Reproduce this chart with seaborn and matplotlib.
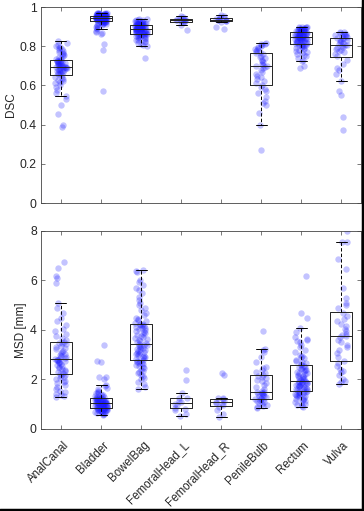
import numpy as np
import pandas as pd
import matplotlib
matplotlib.use("Agg")
import matplotlib.pyplot as plt
from matplotlib.lines import Line2D
from matplotlib.transforms import ScaledTranslation
import seaborn as sns

organs = ["AnalCanal", "Bladder", "BowelBag", "FemoralHead_L",
          "FemoralHead_R", "PenileBulb", "Rectum", "Vulva"]

# ---- DSC values per organ ----
dsc_analcanal = [0.39, 0.40, 0.455, 0.50, 0.53,
                 0.548, 0.56, 0.575, 0.59, 0.60, 0.61, 0.615, 0.62, 0.63, 0.635, 0.64, 0.645, 0.652,
                 0.656, 0.66, 0.663, 0.666, 0.67, 0.672, 0.675, 0.678, 0.68, 0.682, 0.685, 0.687, 0.689, 0.69, 0.692, 0.693, 0.694,
                 0.696, 0.698, 0.70, 0.702, 0.704, 0.706, 0.708, 0.71, 0.712, 0.714, 0.716, 0.718, 0.72, 0.722, 0.724, 0.726, 0.727,
                 0.73, 0.735, 0.74, 0.745, 0.75, 0.755, 0.76, 0.765, 0.77, 0.775, 0.78, 0.785, 0.79, 0.795, 0.80, 0.805, 0.815, 0.826]
dsc_bladder = [0.57, 0.78, 0.81, 0.86, 0.865, 0.87, 0.878,
               0.888, 0.893, 0.898, 0.902, 0.906, 0.909, 0.912, 0.914, 0.916, 0.918, 0.92, 0.921, 0.922, 0.924, 0.925, 0.926,
               0.929, 0.93, 0.931, 0.932, 0.933, 0.933, 0.934, 0.935, 0.935, 0.936, 0.937, 0.937, 0.938, 0.938, 0.939, 0.939, 0.940, 0.940, 0.941, 0.941, 0.941, 0.942,
               0.943, 0.943, 0.944, 0.944, 0.945, 0.945, 0.946, 0.946, 0.947, 0.947, 0.948, 0.948, 0.949, 0.949, 0.950, 0.950, 0.951, 0.952, 0.953, 0.953, 0.954, 0.955,
               0.957, 0.958, 0.958, 0.959, 0.96, 0.96, 0.961, 0.961, 0.962, 0.962, 0.963, 0.963, 0.964, 0.964, 0.965, 0.965, 0.966, 0.966, 0.967, 0.967, 0.968, 0.969, 0.97]
dsc_bowelbag = [0.74, 0.80, 0.805, 0.81, 0.815, 0.82, 0.825, 0.83, 0.833, 0.836, 0.84, 0.843, 0.846, 0.848, 0.85, 0.852, 0.854, 0.856, 0.858, 0.859, 0.861, 0.862, 0.863,
                0.865, 0.866, 0.868, 0.869, 0.87, 0.872, 0.873, 0.874, 0.876, 0.877, 0.878, 0.879, 0.88, 0.881, 0.882, 0.883, 0.884, 0.885, 0.886, 0.886, 0.887, 0.887,
                0.889, 0.89, 0.891, 0.892, 0.893, 0.894, 0.895, 0.896, 0.897, 0.898, 0.899, 0.9, 0.9, 0.901, 0.902, 0.903, 0.903, 0.904, 0.905, 0.905, 0.906, 0.906,
                0.908, 0.909, 0.91, 0.911, 0.912, 0.913, 0.914, 0.915, 0.916, 0.917, 0.918, 0.919, 0.92, 0.922, 0.924, 0.926, 0.928, 0.93, 0.932, 0.934, 0.936, 0.938, 0.94]
dsc_femoral_l = [0.885, 0.91, 0.922, 0.925, 0.929, 0.931, 0.932, 0.934, 0.936, 0.939, 0.941, 0.945, 0.95, 0.955]
dsc_femoral_r = [0.89, 0.90, 0.924, 0.927, 0.93, 0.932, 0.934, 0.936, 0.938, 0.94, 0.943, 0.947, 0.952, 0.96]
dsc_penilebulb = [0.27, 0.40, 0.46, 0.50, 0.51, 0.52, 0.54, 0.56, 0.57, 0.58, 0.59,
                  0.601,
                  0.61, 0.62, 0.635, 0.645, 0.65, 0.66, 0.67, 0.68, 0.69, 0.695,
                  0.698,
                  0.70, 0.705, 0.71, 0.72, 0.725, 0.73, 0.74, 0.745, 0.75, 0.76,
                  0.764,
                  0.77, 0.775, 0.78, 0.785, 0.79, 0.795, 0.80, 0.805, 0.81, 0.812, 0.815]
dsc_rectum = [0.69, 0.70, 0.725, 0.73, 0.74, 0.75, 0.755, 0.76, 0.765, 0.77, 0.775, 0.78, 0.785, 0.79, 0.793, 0.796, 0.799, 0.802, 0.804, 0.806, 0.808, 0.81, 0.812,
              0.814, 0.816, 0.818, 0.82, 0.822, 0.824, 0.826, 0.828, 0.83, 0.832, 0.834, 0.835, 0.836, 0.838, 0.839, 0.84, 0.841, 0.842, 0.843, 0.844, 0.845, 0.846,
              0.848, 0.849, 0.85, 0.851, 0.852, 0.853, 0.854, 0.855, 0.856, 0.857, 0.858, 0.859, 0.86, 0.861, 0.862, 0.863, 0.864, 0.865, 0.867, 0.869, 0.871, 0.873,
              0.875, 0.876, 0.877, 0.878, 0.879, 0.88, 0.881, 0.882, 0.883, 0.884, 0.885, 0.886, 0.887, 0.888, 0.889, 0.89, 0.891, 0.892, 0.894, 0.896, 0.897, 0.899, 0.90]
dsc_vulva = [0.37, 0.44, 0.55, 0.57, 0.62, 0.66, 0.68, 0.69, 0.71, 0.73,
             0.752, 0.76, 0.77, 0.775, 0.78, 0.785, 0.79, 0.795, 0.80, 0.804,
             0.808, 0.812, 0.816, 0.82, 0.825, 0.83, 0.834, 0.838, 0.841, 0.843,
             0.848, 0.85, 0.852, 0.855, 0.858, 0.86, 0.864, 0.868, 0.872, 0.875]

# ---- MSD values per organ [mm] ----
msd_analcanal = [1.28, 1.32, 1.38, 1.42, 1.48, 1.55, 1.62, 1.7, 1.78, 1.85, 1.9, 1.95, 2.0, 2.05, 2.1, 2.15, 2.19, 2.22,
                 2.26, 2.3, 2.34, 2.38, 2.42, 2.46, 2.5, 2.54, 2.58, 2.62, 2.66, 2.69, 2.72, 2.75, 2.77, 2.79, 2.80,
                 2.82, 2.85, 2.88, 2.92, 2.96, 3.0, 3.04, 3.08, 3.12, 3.17, 3.22, 3.27, 3.32, 3.37, 3.42, 3.46, 3.49,
                 3.53, 3.6, 3.68, 3.75, 3.85, 3.95, 4.05, 4.2, 4.35, 4.5, 4.7, 4.9, 5.1, 5.9, 6.1, 6.2, 6.5, 6.75]
msd_bladder = [0.57, 0.6, 0.62, 0.64, 0.66, 0.68, 0.7, 0.71, 0.72, 0.73, 0.74, 0.75, 0.76, 0.77, 0.78, 0.79, 0.8, 0.81, 0.82, 0.83, 0.84, 0.845, 0.848,
               0.856, 0.865, 0.875, 0.885, 0.895, 0.905, 0.915, 0.925, 0.935, 0.945, 0.955, 0.965, 0.975, 0.985, 0.995, 1.0, 1.005, 1.01, 1.015, 1.02, 1.03, 1.035,
               1.045, 1.05, 1.06, 1.07, 1.08, 1.09, 1.1, 1.11, 1.12, 1.13, 1.14, 1.15, 1.16, 1.17, 1.18, 1.19, 1.2, 1.205, 1.21, 1.215, 1.22, 1.225,
               1.235, 1.25, 1.27, 1.29, 1.31, 1.33, 1.35, 1.38, 1.41, 1.44, 1.47, 1.5, 1.55, 1.6, 1.65, 1.72, 1.79, 2.0, 2.1, 2.1, 2.7, 2.75, 3.4]
msd_bowelbag = [1.62, 1.7, 1.8, 1.9, 2.0, 2.08, 2.15, 2.2, 2.25, 2.3, 2.35, 2.4, 2.45, 2.5, 2.54, 2.58, 2.62, 2.65, 2.68, 2.71, 2.74, 2.76, 2.78,
                2.83, 2.86, 2.89, 2.92, 2.95, 2.98, 3.01, 3.04, 3.07, 3.1, 3.13, 3.16, 3.19, 3.22, 3.25, 3.28, 3.31, 3.34, 3.36, 3.38, 3.4, 3.42,
                3.46, 3.5, 3.54, 3.58, 3.62, 3.66, 3.7, 3.74, 3.78, 3.82, 3.86, 3.9, 3.94, 3.98, 4.02, 4.06, 4.1, 4.13, 4.16, 4.19, 4.21, 4.23,
                4.26, 4.3, 4.35, 4.4, 4.45, 4.5, 4.6, 4.7, 4.8, 4.9, 5.0, 5.1, 5.2, 5.35, 5.5, 5.6, 5.7, 5.8, 5.95, 6.0, 6.35, 6.4, 6.42]
msd_femoral_l = [0.54, 0.6, 0.75, 0.82, 0.86, 0.95, 1.02, 1.08, 1.15, 1.25, 1.27, 1.46, 1.96, 2.4]
msd_femoral_r = [0.5, 0.6, 0.75, 0.9, 0.98, 1.02, 1.06, 1.1, 1.15, 1.2, 1.24, 1.25, 2.17, 2.27]
msd_penilebulb = [0.84, 0.88, 0.92, 0.96, 1.0, 1.04, 1.08, 1.12, 1.16, 1.19, 1.21,
                  1.23,
                  1.26, 1.29, 1.32, 1.35, 1.38, 1.4, 1.42, 1.44, 1.46, 1.48,
                  1.50,
                  1.55, 1.62, 1.7, 1.78, 1.85, 1.92, 1.98, 2.05, 2.1, 2.15,
                  2.19,
                  2.25, 2.32, 2.4, 2.45, 2.5, 2.7, 2.9, 3.1, 3.2, 3.24, 3.95]
msd_rectum = [0.9, 0.93, 0.96, 1.0, 1.04, 1.08, 1.12, 1.16, 1.2, 1.23, 1.26, 1.29, 1.32, 1.35, 1.37, 1.39, 1.41, 1.43, 1.45, 1.47, 1.49, 1.5, 1.51,
              1.55, 1.57, 1.59, 1.61, 1.63, 1.65, 1.67, 1.69, 1.71, 1.73, 1.75, 1.77, 1.79, 1.81, 1.83, 1.85, 1.87, 1.88, 1.89, 1.9, 1.91, 1.93,
              1.95, 1.98, 2.01, 2.04, 2.07, 2.1, 2.13, 2.16, 2.19, 2.22, 2.25, 2.28, 2.31, 2.34, 2.37, 2.4, 2.43, 2.46, 2.49, 2.52, 2.55, 2.57,
              2.61, 2.65, 2.7, 2.75, 2.8, 2.85, 2.9, 2.95, 3.0, 3.1, 3.2, 3.3, 3.4, 3.5, 3.55, 3.6, 3.65, 3.7, 3.9, 4.08, 4.5, 4.7, 6.18]
msd_vulva = [1.82, 1.88, 1.95, 2.0, 2.2, 2.3, 2.36, 2.42, 2.55, 2.68,
             2.76, 2.9, 3.05, 3.2, 3.3, 3.4, 3.5, 3.6, 3.7, 3.75,
             3.79, 3.85, 3.95, 4.05, 4.15, 4.25, 4.35, 4.45, 4.55, 4.7,
             4.88, 5.0, 5.1, 5.3, 5.7, 6.45, 6.85, 7.55, 7.57, 8.0]

dsc_values = [dsc_analcanal, dsc_bladder, dsc_bowelbag, dsc_femoral_l,
              dsc_femoral_r, dsc_penilebulb, dsc_rectum, dsc_vulva]
msd_values = [msd_analcanal, msd_bladder, msd_bowelbag, msd_femoral_l,
              msd_femoral_r, msd_penilebulb, msd_rectum, msd_vulva]

dsc_ticks = [0, 0.2, 0.4, 0.6, 0.8, 1]
dsc_ticklabels = ["0", "0.2", "0.4", "0.6", "0.8", "1"]
msd_ticks = [0, 2, 4, 6, 8]
msd_ticklabels = ["0", "2", "4", "6", "8"]


def long_df(values):
    return pd.DataFrame({
        "organ": [o for o, v in zip(organs, values) for _ in v],
        "value": [x for v in values for x in v],
    })


sns.set_theme(style="ticks")
plt.rcParams["font.family"] = ["Liberation Sans", "DejaVu Sans"]
plt.rcParams["font.size"] = 9

TXT = "#262626"
fig = plt.figure(figsize=(3.64, 5.11), dpi=100)
ax1 = fig.add_axes([0.1126, 0.6027, 0.8794, 0.3836])
ax2 = fig.add_axes([0.1126, 0.1605, 0.8794, 0.3875])

np.random.seed(3)
for ax, values, ticks, tlabels, ylab, ylim in [
    (ax1, dsc_values, dsc_ticks, dsc_ticklabels, "DSC", (0, 1)),
    (ax2, msd_values, msd_ticks, msd_ticklabels, "MSD [mm]", (0, 8)),
]:
    df = long_df(values)
    sns.stripplot(data=df, x="organ", y="value", order=organs, ax=ax,
                  color=(0.1, 0.1, 1.0), alpha=0.26, size=4.6, jitter=0.15,
                  linewidth=0, zorder=1)
    sns.boxplot(data=df, x="organ", y="value", order=organs, ax=ax,
                fill=False, color="black", linewidth=0.7, width=0.55,
                showfliers=False, whis=1.5,
                whiskerprops=dict(linestyle=(0, (3.5, 2.2)), color="black"),
                boxprops=dict(color="#222222"),
                medianprops=dict(color="#222222"),
                capprops=dict(color="black"))
    ax.set_ylim(*ylim)
    ax.set_xlim(-0.5, 7.5)
    ax.set_yticks(ticks)
    ax.set_yticklabels(tlabels)
    ax.set_ylabel(ylab, fontsize=8.5, color=TXT, labelpad=2)
    ax.set_xlabel("")
    for s in ax.spines.values():
        s.set_visible(True)
        s.set_color("#444444")
        s.set_linewidth(0.6)
    ax.tick_params(direction="in", length=3, width=0.5, colors="#444444",
                   top=True, right=True, labelsize=8.8, labelcolor=TXT, pad=3)

ax1.set_xticks(range(len(organs)))
ax1.set_xticklabels([])
ax2.set_xticks(range(len(organs)))
ax2.set_xticklabels(organs, rotation=45, ha="right", rotation_mode="anchor",
                    fontsize=8.3)
shift = ScaledTranslation(0.02, -0.06, fig.dpi_scale_trans)
for lab in ax2.get_xticklabels():
    lab.set_transform(lab.get_transform() + shift)

# black frame on right and bottom edges of the image
fig.add_artist(Line2D([0.0, 1.0], [0.002, 0.002], transform=fig.transFigure,
                      color="black", linewidth=2.5))
fig.add_artist(Line2D([0.997, 0.997], [0.0, 1.0], transform=fig.transFigure,
                      color="black", linewidth=2.5))

fig.savefig("out.png", dpi=100)
